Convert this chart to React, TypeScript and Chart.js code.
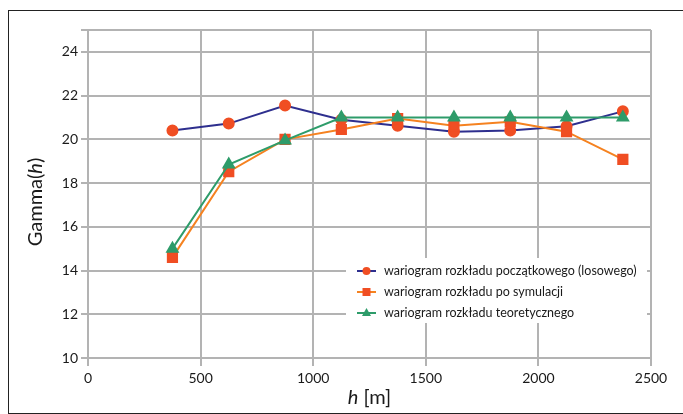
import React, { useEffect, useRef } from 'react';
import { Chart, registerables } from 'chart.js';

Chart.register(...registerables);

const lagDistances = [375, 625, 875, 1125, 1375, 1625, 1875, 2125, 2375];
const initialVariogram = [20.4, 20.72, 21.55, 20.9, 20.62, 20.35, 20.4, 20.6, 21.28];
const simulatedVariogram = [14.6, 18.52, 20.0, 20.45, 20.95, 20.62, 20.8, 20.35, 19.08];
const theoreticalVariogram = [15.0, 18.85, 19.95, 21.0, 21.0, 21.0, 21.0, 21.0, 21.0];
const seriesLabels = [
  'wariogram rozkładu początkowego (losowego)',
  'wariogram rozkładu po symulacji',
  'wariogram rozkładu teoretycznego',
];
const xAxisRange = [0, 2500, 500];
const yAxisRange = [10, 25, 2];

const FONT = 'Lato, "Open Sans", sans-serif';
const GRID = '#b3b3b3';
const TEXT = '#1a1a1a';

const toPoints = (ys: number[]) => ys.map((y, i) => ({ x: lagDistances[i], y }));

const titlesPlugin = {
  id: 'titles',
  afterDraw(chart: any) {
    const { ctx, chartArea } = chart;
    ctx.save();
    ctx.fillStyle = TEXT;
    ctx.textBaseline = 'middle';
    const normal = `20px ${FONT}`;
    const italic = `italic 20px ${FONT}`;
    const drawParts = (parts: [string, string][], cx: number, cy: number) => {
      let total = 0;
      const widths = parts.map(([t, f]) => {
        ctx.font = f;
        const w = ctx.measureText(t).width;
        total += w;
        return w;
      });
      let x = cx - total / 2;
      ctx.textAlign = 'left';
      parts.forEach(([t, f], i) => {
        ctx.font = f;
        ctx.fillText(t, x, cy);
        x += widths[i];
      });
    };
    const cx = (chartArea.left + chartArea.right) / 2;
    drawParts([['h', italic], [' [m]', normal]], cx, chartArea.bottom + 40);
    ctx.save();
    ctx.translate(chartArea.left - 52, (chartArea.top + chartArea.bottom) / 2 + 8);
    ctx.rotate(-Math.PI / 2);
    drawParts([['Gamma(', normal], ['h', italic], [')', normal]], 0, 0);
    ctx.restore();
    ctx.restore();
  },
};

const legendPlugin = {
  id: 'insideLegend',
  afterDraw(chart: any) {
    const { ctx, chartArea } = chart;
    const left = chartArea.right - 305;
    const top = chartArea.bottom - 100;
    ctx.save();
    ctx.fillStyle = '#ffffff';
    ctx.fillRect(left, top, 301, 65);
    chart.data.datasets.forEach((ds: any, i: number) => {
      const y = top + 13 + i * 21;
      const lx = left + 11;
      ctx.strokeStyle = ds.borderColor;
      ctx.lineWidth = 2;
      ctx.beginPath();
      ctx.moveTo(lx, y);
      ctx.lineTo(lx + 19, y);
      ctx.stroke();
      ctx.fillStyle = ds.pointBackgroundColor;
      ctx.beginPath();
      const mx = lx + 9.5;
      if (ds.pointStyle === 'circle') {
        ctx.arc(mx, y, 4, 0, Math.PI * 2);
      } else if (ds.pointStyle === 'rect') {
        ctx.rect(mx - 4, y - 4, 8, 8);
      } else {
        ctx.moveTo(mx, y - 5);
        ctx.lineTo(mx + 4.5, y + 3);
        ctx.lineTo(mx - 4.5, y + 3);
        ctx.closePath();
      }
      ctx.fill();
      ctx.fillStyle = TEXT;
      ctx.font = `12.5px ${FONT}`;
      ctx.textAlign = 'left';
      ctx.textBaseline = 'middle';
      ctx.fillText(ds.label, lx + 27, y);
    });
    ctx.restore();
  },
};

export default function App() {
  const canvasRef = useRef<HTMLCanvasElement | null>(null);

  useEffect(() => {
    if (!canvasRef.current) return;
    const chart = new Chart(canvasRef.current, {
      type: 'line',
      data: {
        datasets: [
          {
            label: seriesLabels[0],
            data: toPoints(initialVariogram),
            borderColor: '#2e2f8e',
            backgroundColor: '#f04e23',
            pointBackgroundColor: '#f04e23',
            pointBorderColor: '#f04e23',
            pointStyle: 'circle',
            pointRadius: 5,
            borderWidth: 2,
            order: 3,
          },
          {
            label: seriesLabels[1],
            data: toPoints(simulatedVariogram),
            borderColor: '#f58220',
            backgroundColor: '#f04e23',
            pointBackgroundColor: '#f04e23',
            pointBorderColor: '#f04e23',
            pointStyle: 'rect',
            pointRadius: 6.5,
            borderWidth: 2,
            order: 2,
          },
          {
            label: seriesLabels[2],
            data: toPoints(theoreticalVariogram),
            borderColor: '#2e9c6a',
            backgroundColor: '#2e9c6a',
            pointBackgroundColor: '#2e9c6a',
            pointBorderColor: '#2e9c6a',
            pointStyle: 'triangle',
            pointRadius: 6,
            borderWidth: 2,
            order: 1,
          },
        ],
      },
      options: {
        animation: false,
        responsive: false,
        maintainAspectRatio: false,
        layout: { padding: { top: 19, right: 32, left: 0, bottom: 0 } },
        plugins: {
          legend: { display: false },
          tooltip: { enabled: false },
        },
        scales: {
          x: {
            type: 'linear',
            min: xAxisRange[0],
            max: xAxisRange[1],
            ticks: {
              stepSize: xAxisRange[2],
              color: TEXT,
              font: { family: FONT, size: 14 },
              padding: 4,
              maxRotation: 0,
              callback: (v: any) => String(v),
            },
            grid: { color: GRID, lineWidth: 2, tickLength: 8, tickColor: GRID },
            border: { color: GRID, width: 2 },
            afterFit(scale: any) {
              scale.height = 55;
            },
          },
          y: {
            type: 'linear',
            min: yAxisRange[0],
            max: yAxisRange[1],
            ticks: {
              stepSize: yAxisRange[2],
              color: TEXT,
              font: { family: FONT, size: 14 },
              padding: 3,
              callback: (v: any) => (v === yAxisRange[1] ? '' : String(v)),
            },
            grid: { color: GRID, lineWidth: 2, tickLength: 7, tickColor: GRID },
            border: { color: GRID, width: 2 },
            afterFit(scale: any) {
              scale.width = 79;
            },
          },
        },
      },
      plugins: [legendPlugin, titlesPlugin],
    } as any);
    return () => chart.destroy();
  }, []);

  return (
    <div
      style={{
        position: 'fixed',
        left: 8,
        top: 10,
        width: 676,
        height: 404,
        boxSizing: 'border-box',
        border: '1px solid #222',
        background: '#fff',
      }}
    >
      <canvas ref={canvasRef} width={674} height={402} style={{ display: 'block' }} />
    </div>
  );
}
